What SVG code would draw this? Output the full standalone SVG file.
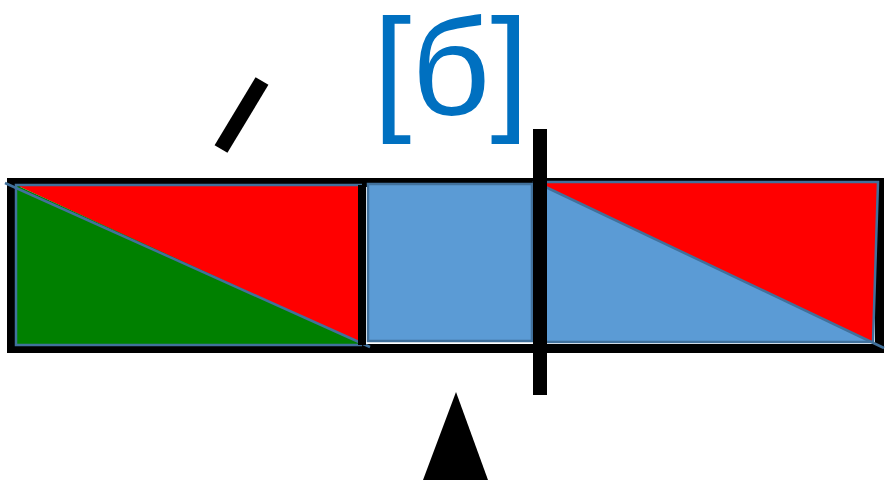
<svg xmlns="http://www.w3.org/2000/svg" width="887" height="482" viewBox="0 0 887 482">
<style>
.edge{stroke:#41719C;stroke-width:2.5;fill:none}
.blk{fill:#000}
.lbl{font-family:"Liberation Sans",Arial,sans-serif;font-size:138px;fill:#0070C0}
</style>
<rect width="887" height="482" fill="#fff"/>
<g id="frame">
<rect x="11.5" y="182.5" width="868" height="166" fill="none" stroke="#000" stroke-width="9"/>
</g>
<g id="left-section">
<polygon points="16,185 362,185 362,345" fill="#FF0000"/>
<polygon points="16,185 16,345 365,345" fill="#008000"/>
<polyline class="edge" points="362,185 16,185 16,345 362,345"/>
<line class="edge" x1="5" y1="183" x2="370" y2="347"/>
<rect x="358" y="185" width="8" height="160" class="blk"/>
</g>
<g id="middle-section">
<rect x="368" y="184" width="164" height="157" fill="#5B9BD5" stroke="#41719C" stroke-width="2.5"/>
</g>
<g id="right-section">
<polygon points="545,182 878,182 873,342 545,342" fill="#5B9BD5"/>
<polygon points="533,181 878,181 873,343" fill="#FF0000"/>
<polygon points="545,182 878,182 873,342 545,342" fill="none" stroke="#41719C" stroke-width="2.5"/>
<line class="edge" x1="533" y1="181" x2="884" y2="348"/>
</g>
<g id="divider">
<rect x="533" y="129" width="14" height="266" class="blk"/>
</g>
<g id="slash">
<line x1="262" y1="81" x2="221" y2="149" stroke="#000" stroke-width="15"/>
</g>
<g id="pointer">
<polygon points="456,392 423,480 488,480" class="blk"/>
</g>
<g id="label">
<text class="lbl" x="373" y="115">[б]</text>
</g>
</svg>
